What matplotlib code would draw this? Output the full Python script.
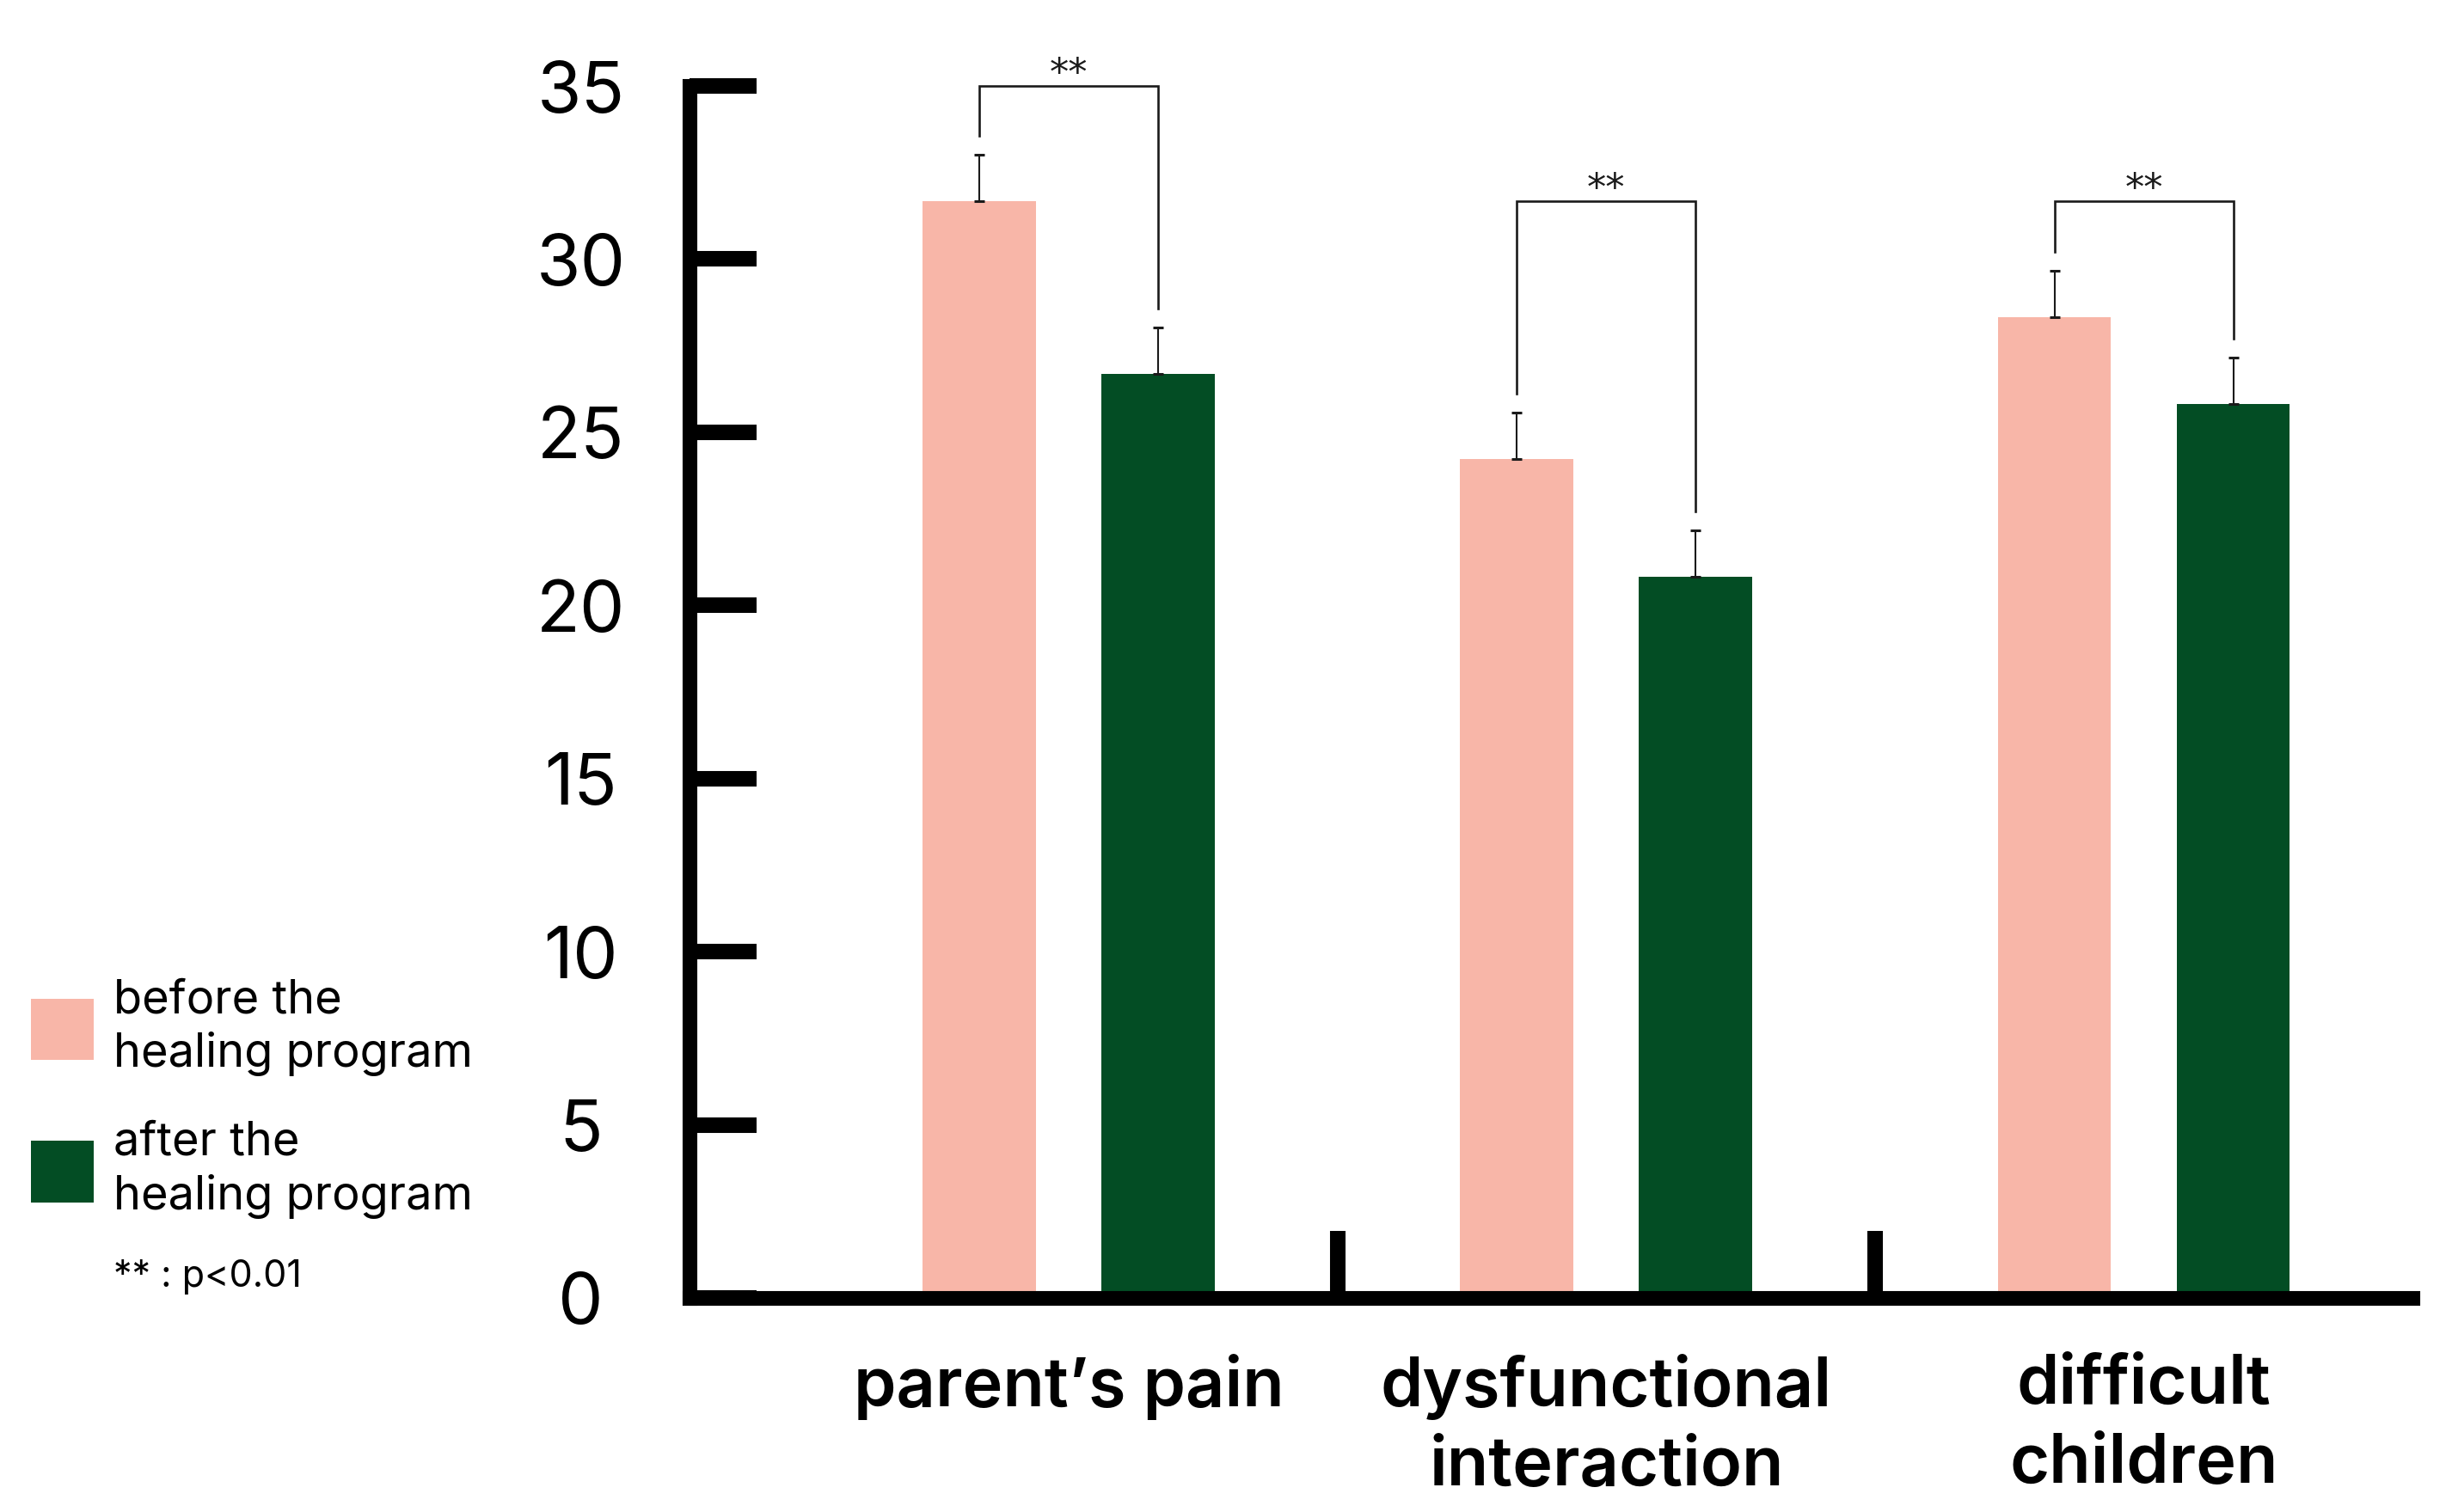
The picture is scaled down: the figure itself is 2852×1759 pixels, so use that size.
import matplotlib
matplotlib.use("Agg")
import matplotlib.pyplot as plt
import numpy as np

# ---- data ----
categories = ["parent\u2019s pain", "dysfunctional\ninteraction", "difficult\nchildren"]
before_mean = [31.68, 24.22, 28.33]
before_err = [1.34, 1.35, 1.34]
after_mean = [26.69, 20.83, 25.82]
after_err = [1.33, 1.33, 1.34]
bracket_top = [35.0, 31.68, 31.68]
yticks = [0, 5, 10, 15, 20, 25, 30, 35]

pink = "#F8B6A8"
green = "#034D24"

plt.rcParams["font.family"] = ["Inter", "DejaVu Sans"]

fig = plt.figure(figsize=(28.52, 17.59), dpi=100)
ax = fig.add_axes([0.2812, 0.1416, 0.7027, 0.8015])

x = np.arange(len(categories))
w = 0.211
off = 0.1664

b1 = ax.bar(x - off, before_mean, w, color=pink, label="before the\nhealing program")
b2 = ax.bar(x + off, after_mean, w, color=green, label="after the\nhealing program")
zeros = np.zeros(len(categories))
ax.errorbar(x - off, before_mean, yerr=[zeros, before_err], fmt="none",
            ecolor="#1a1a1a", elinewidth=1.5, capsize=4.5, capthick=2.2)
ax.errorbar(x + off, after_mean, yerr=[zeros, after_err], fmt="none",
            ecolor="#1a1a1a", elinewidth=1.5, capsize=4.5, capthick=2.2)

# significance brackets
gap = 0.55
for i in range(len(categories)):
    xl, xr = x[i] - off, x[i] + off
    lb = before_mean[i] + before_err[i] + gap
    rb = after_mean[i] + after_err[i] + gap
    ax.plot([xl, xl, xr, xr], [lb, bracket_top[i], bracket_top[i], rb],
            color="#1a1a1a", lw=1.9, clip_on=False, solid_joinstyle="miter")
    ax.text(x[i], bracket_top[i] + 0.02, "**", ha="center", va="baseline",
            fontsize=32, family="DejaVu Sans", color="#1a1a1a")

ax.set_xlim(-0.706, 2.50)
ax.set_ylim(0, 35)

for s in ["top", "right"]:
    ax.spines[s].set_visible(False)
for s in ["left", "bottom"]:
    ax.spines[s].set_linewidth(12.3)
    ax.spines[s].set_capstyle("projecting")

ax.set_yticks(yticks)
ax.set_yticklabels([str(v) for v in yticks])
ax.tick_params(axis="y", direction="in", length=56, width=13, pad=91, labelsize=60)
for lbl in ax.get_yticklabels():
    lbl.set_horizontalalignment("center")

ax.set_xticks(x)
ax.set_xticklabels(categories, fontweight="semibold", linespacing=1.3)
ax.tick_params(axis="x", which="major", length=0, pad=47, labelsize=57)
ax.set_xticks([0.5, 1.5], minor=True)
ax.tick_params(axis="x", which="minor", direction="in", length=56, width=13)

leg = fig.legend(handles=[b1, b2], loc="upper left", bbox_to_anchor=(0.0126, 0.353),
                 frameon=False, fontsize=39, borderpad=0, borderaxespad=0,
                 handlelength=1.35, handleheight=1.65, handletextpad=0.43,
                 labelspacing=0.95)
for t in leg.get_texts():
    t.set_linespacing(1.27)

fig.text(0.0463, 0.149, "** : p<0.01", fontsize=31, va="baseline", ha="left")

fig.savefig("out.png", dpi=100)
